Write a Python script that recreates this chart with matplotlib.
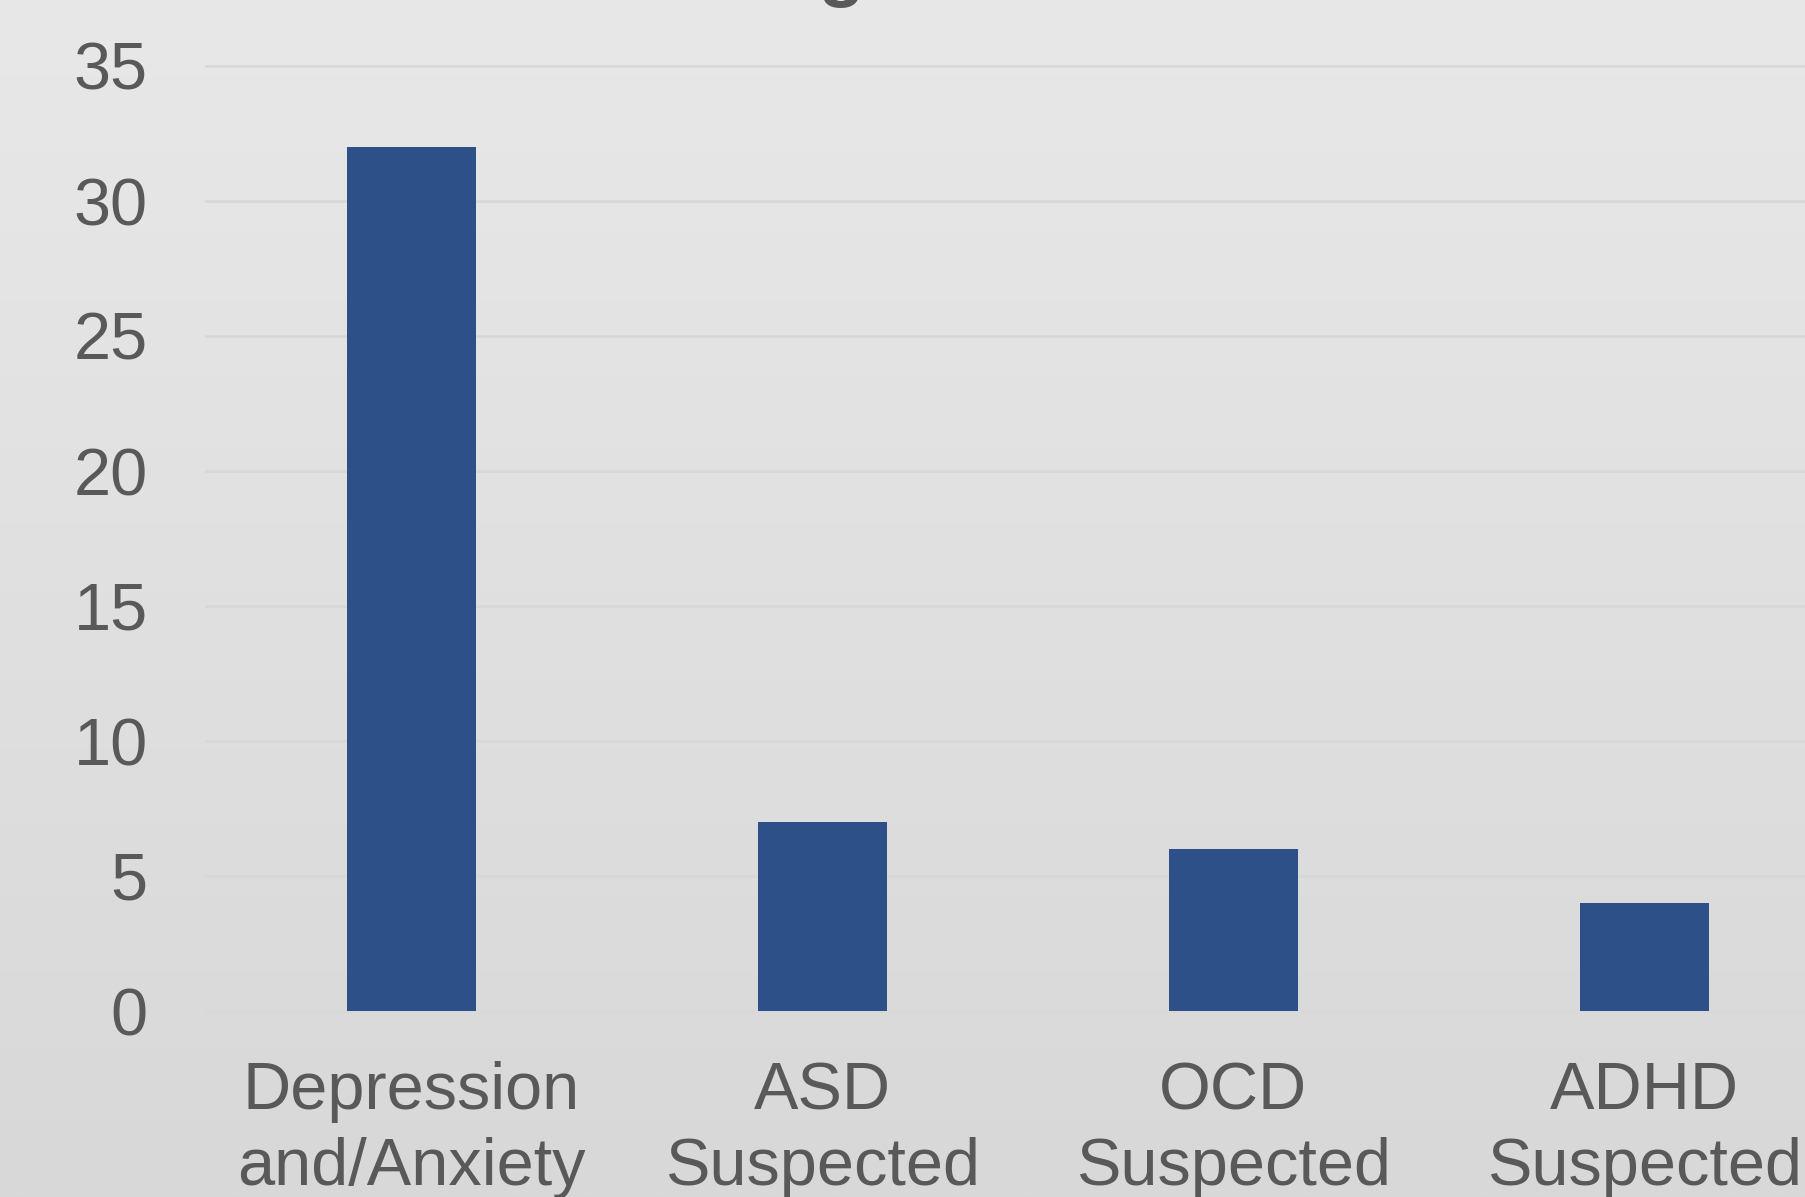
import numpy as np
import matplotlib
matplotlib.use("Agg")
import matplotlib.pyplot as plt

categories = ["Depression\nand/Anxiety", "ASD\nSuspected", "OCD\nSuspected", "ADHD\nSuspected"]
values = [32, 7, 6, 4]
yticks = [0, 5, 10, 15, 20, 25, 30, 35]
title = "Diagnoses"

plt.rcParams['font.family'] = ['Liberation Sans', 'DejaVu Sans']
TXT = '#595959'

W, H, DPI = 1806, 1197, 100
fig = plt.figure(figsize=(W / DPI, H / DPI), dpi=DPI)

# background gradient
bg = fig.add_axes([0, 0, 1, 1], zorder=-10)
grad = np.linspace(0, 1, 256).reshape(-1, 1)
top = np.array([232, 232, 232]) / 255
bot = np.array([216, 216, 216]) / 255
img = top[None, None, :] * (1 - grad[..., None]) + bot[None, None, :] * grad[..., None]
bg.imshow(img, aspect='auto', extent=[0, 1, 0, 1], interpolation='bilinear')
bg.set_axis_off()

left = 206 / W
right = 1850 / W
bottom = (H - 1011) / H
top_y = (H - 66) / H
ax = fig.add_axes([left, bottom, right - left, top_y - bottom])
ax.patch.set_alpha(0)

x = np.arange(len(categories))
ax.bar(x, values, width=0.314, color='#2D5089', zorder=3)
ax.set_xlim(-0.5, len(categories) - 0.5)
ax.set_ylim(0, 35)
ax.set_yticks(yticks)
ax.set_yticklabels([str(v) for v in yticks])
ax.set_xticks(x)
ax.set_xticklabels(categories, linespacing=1.3)
for s in ax.spines.values():
    s.set_visible(False)
ax.tick_params(axis='y', length=0, pad=42, labelsize=48, labelcolor=TXT)
ax.tick_params(axis='x', length=0, pad=36, labelsize=48, labelcolor=TXT)
for v in yticks:
    ax.axhline(v, color='#d8d8d8', lw=2, zorder=1, clip_on=False)

fig.text(702 / W, 1 + 7 / H, title, ha='left', va='baseline', fontsize=54,
         fontweight='bold', color=TXT)

fig.savefig("out.png", dpi=DPI)
